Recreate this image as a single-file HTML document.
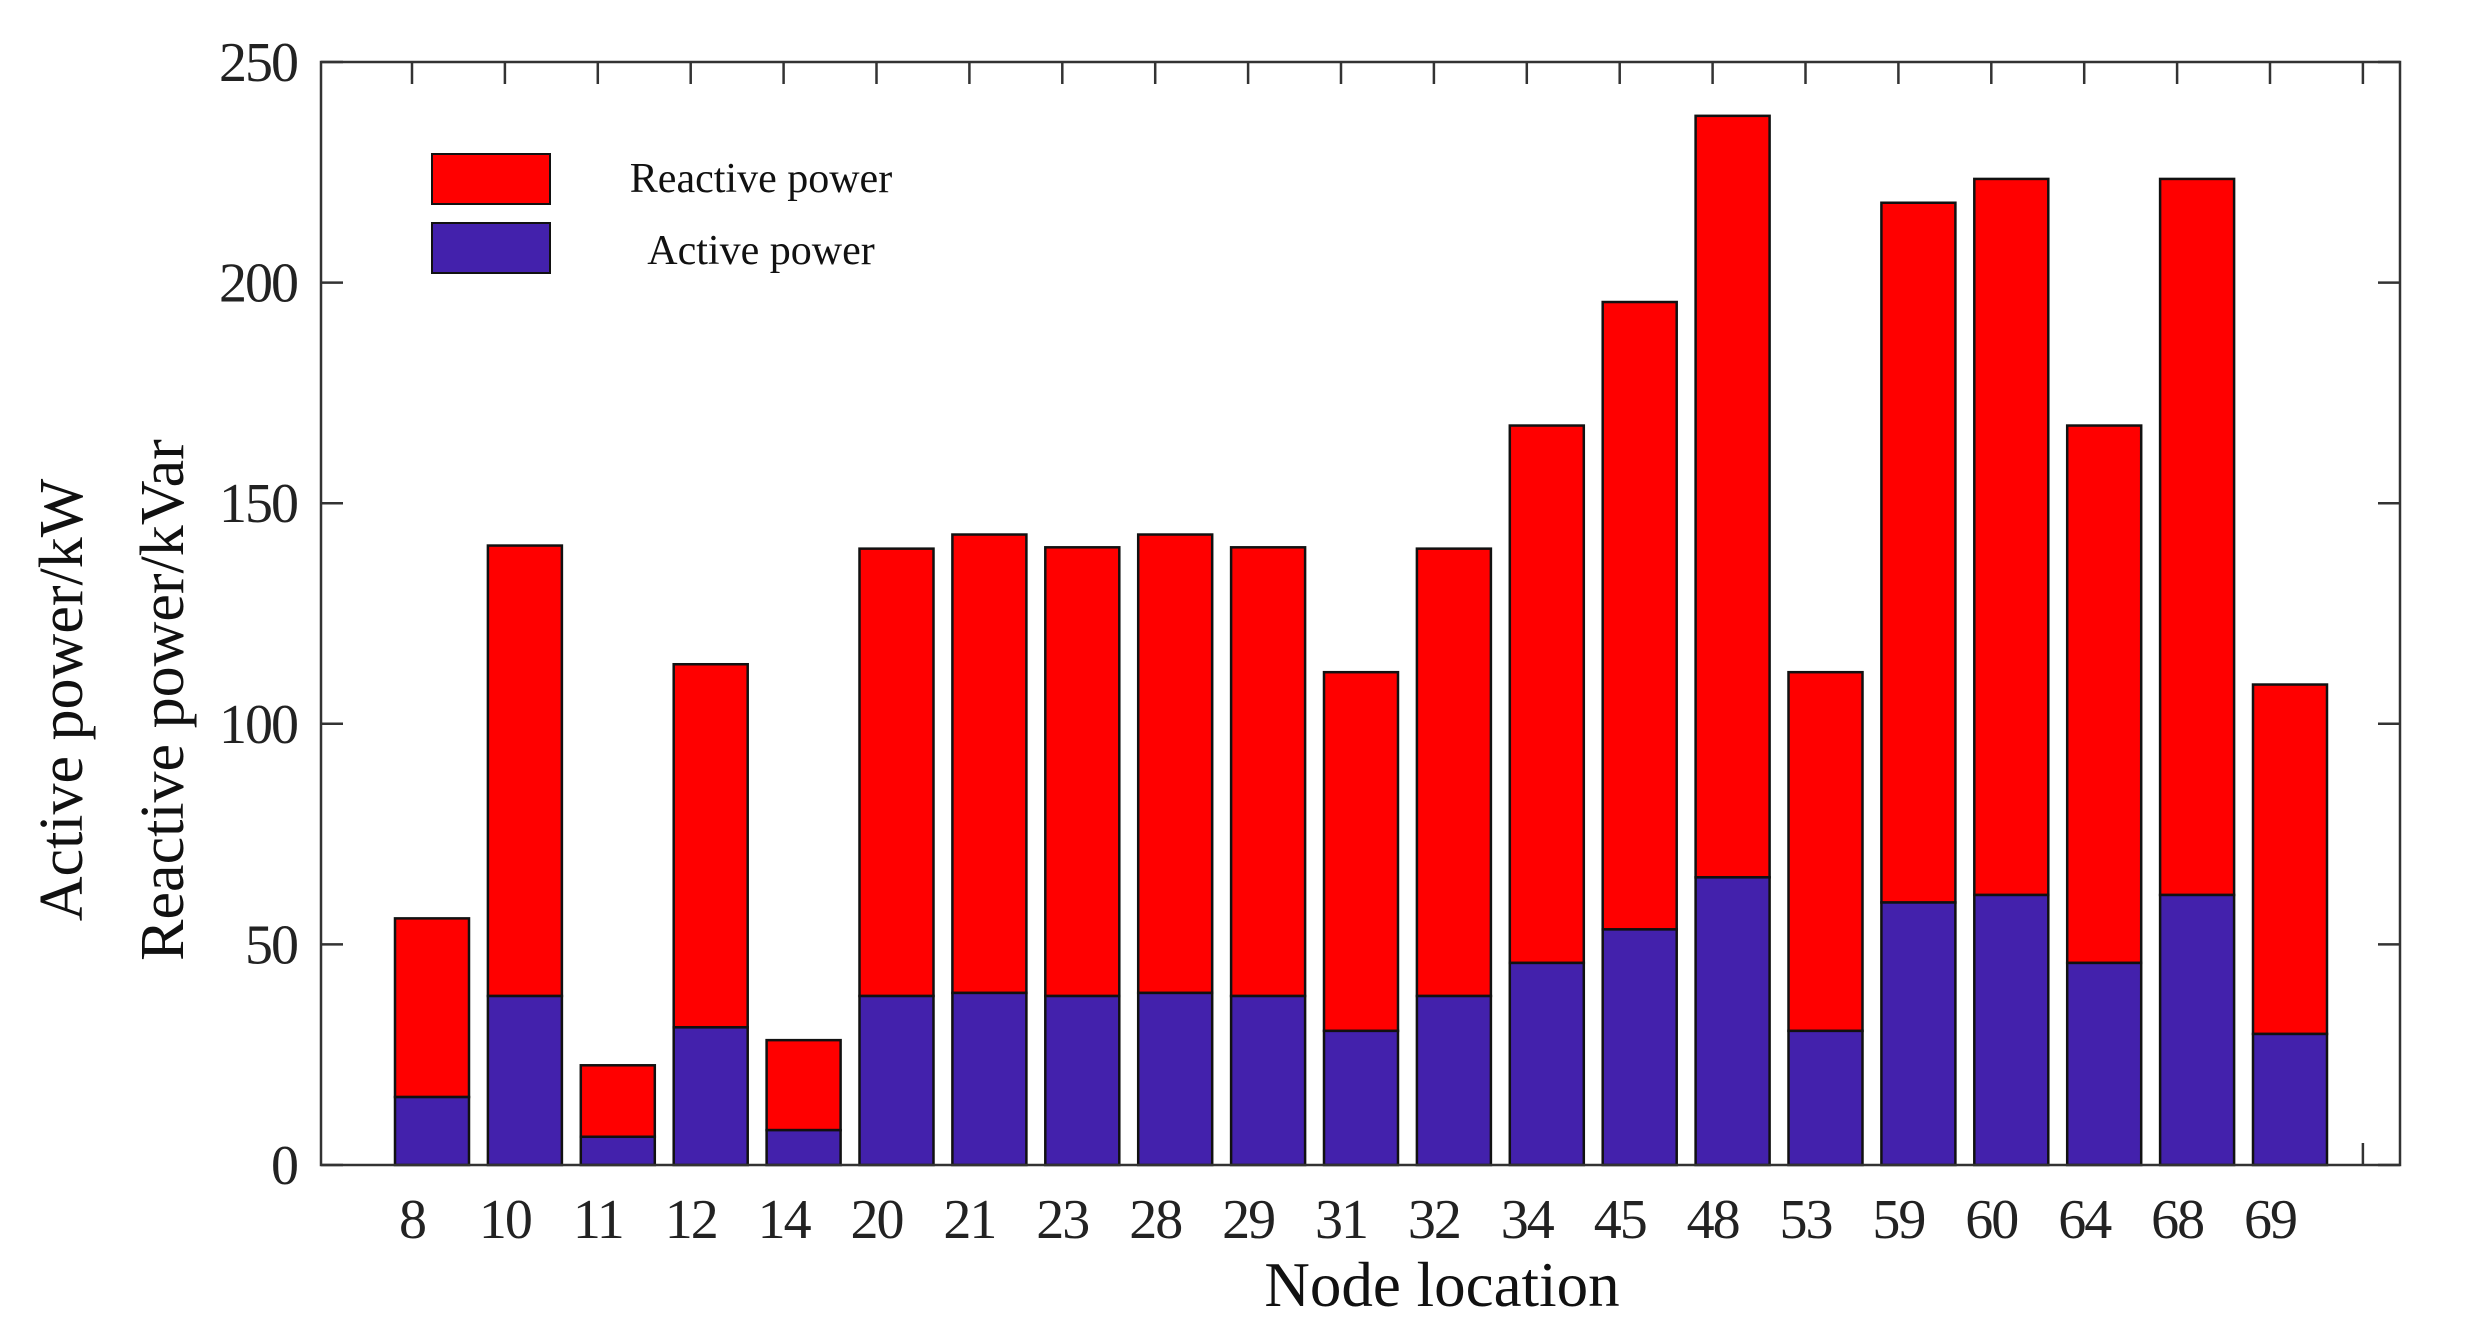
<!DOCTYPE html>
<html><head><meta charset="utf-8">
<style>
html,body{margin:0;padding:0;background:#fff;}
svg{display:block;font-family:"Liberation Serif",serif;}
</style></head>
<body>
<svg id="chart" width="2471" height="1332" viewBox="0 0 2471 1332" xmlns="http://www.w3.org/2000/svg">
<g id="ticks"></g>
<g id="bars"></g>
<rect x="321" y="62" width="2079" height="1103" fill="none" stroke="#333" stroke-width="2.5"/>
<g id="ylabels" font-size="56" fill="#222" text-anchor="end" letter-spacing="-2"></g>
<g id="xlabels" font-size="56" fill="#222" text-anchor="middle" letter-spacing="-2"></g>
<text x="1442" y="1306" font-size="63" text-anchor="middle" fill="#111">Node location</text>
<text transform="translate(82,700) rotate(-90)" font-size="62" text-anchor="middle" fill="#111">Active power/kW</text>
<text transform="translate(183,700) rotate(-90)" font-size="62" text-anchor="middle" fill="#111">Reactive power/kVar</text>
<g>
<rect x="432" y="154" width="118" height="50" fill="#ff0000" stroke="#111" stroke-width="2"/>
<text x="761" y="192" font-size="42" text-anchor="middle" fill="#111">Reactive power</text>
<rect x="432" y="223" width="118" height="50" fill="#4321ac" stroke="#111" stroke-width="2"/>
<text x="761" y="264" font-size="42" text-anchor="middle" fill="#111">Active power</text>
</g>
</svg>
<script>
const categories = ["8","10","11","12","14","20","21","23","28","29","31","32","34","45","48","53","59","60","64","68","69"];
const activePower = [15.4,38.3,6.4,31.2,7.9,38.3,39,38.3,39,38.3,30.4,38.3,45.8,53.4,65.2,30.4,59.5,61.2,45.8,61.2,29.7];
const reactivePower = [40.5,102.1,16.2,82.3,20.4,101.4,103.9,101.7,103.9,101.7,81.3,101.4,121.8,142.2,172.6,81.3,158.6,162.3,121.8,162.3,79.2];
const yTicks = [0,50,100,150,200,250];

const NS = "http://www.w3.org/2000/svg";
const X0 = 321, X1 = 2400, Y0 = 1165, Y1 = 62;
function yPos(v){ return Y0 - (v/250)*(Y0-Y1); }
function tickX(i){ return 412 + i*92.9; }
function barX(i){ return tickX(i) + 20; }
const BW = 74;
function mk(tag, attrs, parent){ const e=document.createElementNS(NS,tag); for(const k in attrs) e.setAttribute(k,attrs[k]); parent.appendChild(e); return e; }

const ticks = document.getElementById('ticks');
const bars = document.getElementById('bars');
const yl = document.getElementById('ylabels');
const xl = document.getElementById('xlabels');

yTicks.forEach(v=>{
  const y = yPos(v);
  const t1 = mk('line',{x1:X0,y1:y,x2:X0+22,y2:y,stroke:'#333','stroke-width':2.5},ticks);
  
  
  const t2 = mk('line',{x1:X1,y1:y,x2:X1-22,y2:y,stroke:'#333','stroke-width':2.5},ticks);
  
  
  const tx = mk('text',{x:X0-24,y:y+19},yl);
  tx.textContent = v;
  
  
});

for(let i=0;i<=categories.length;i++){
  const x = tickX(i);
  const a = mk('line',{x1:x,y1:Y1,x2:x,y2:Y1+22,stroke:'#333','stroke-width':2.5},ticks);
  
  
  const b = mk('line',{x1:x,y1:Y0,x2:x,y2:Y0-22,stroke:'#333','stroke-width':2.5},ticks);
  
  
}

categories.forEach((c,i)=>{
  const x = barX(i) - BW/2;
  const a = activePower[i], r = reactivePower[i];
  const ra = mk('rect',{x:x,y:yPos(a+r),width:BW,height:yPos(a)-yPos(a+r),fill:'#ff0000',stroke:'#111','stroke-width':2.5},bars);
  
  
  const ba = mk('rect',{x:x,y:yPos(a),width:BW,height:Y0-yPos(a),fill:'#4321ac',stroke:'#111','stroke-width':2.5},bars);
  
  
  const t = mk('text',{x:tickX(i),y:1238},xl);
  t.textContent = c;
  
  
});
</script>
</body></html>
